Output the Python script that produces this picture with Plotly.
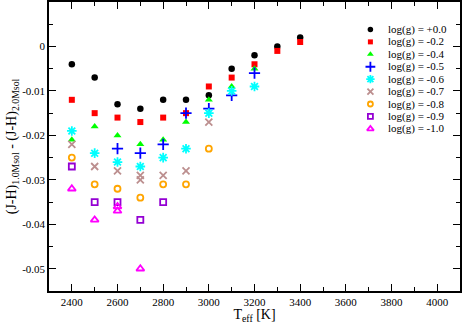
import plotly.graph_objects as go

# (J-H) difference 1.0 Msol - 2.0 Msol, per log(g)
teff_00 = [2400, 2500, 2600, 2700, 2800, 2900, 3000, 3100, 3200, 3300, 3400]
dj_00 = [-0.004, -0.007, -0.013, -0.014, -0.012, -0.012, -0.011, -0.005, -0.002, 0.0, 0.002]

teff_02 = [2400, 2500, 2600, 2700, 2800, 2900, 3000, 3100, 3200, 3300, 3400]
dj_02 = [-0.012, -0.015, -0.016, -0.017, -0.016, -0.015, -0.009, -0.007, -0.004, -0.001, 0.001]

teff_04 = [2400, 2500, 2600, 2700, 2800, 2900, 3000, 3100, 3200]
dj_04 = [-0.021, -0.018, -0.020, -0.022, -0.021, -0.017, -0.012, -0.009, -0.005]

teff_05 = [2600, 2700, 2800, 2900, 3000, 3100, 3200]
dj_05 = [-0.023, -0.024, -0.022, -0.015, -0.014, -0.011, -0.006]

teff_06 = [2400, 2500, 2600, 2700, 2800, 2900, 3000, 3100, 3200]
dj_06 = [-0.019, -0.024, -0.026, -0.027, -0.025, -0.023, -0.015, -0.010, -0.009]

teff_07 = [2400, 2500, 2600, 2700, 2700, 2800, 2900, 3000]
dj_07 = [-0.022, -0.027, -0.028, -0.029, -0.030, -0.029, -0.028, -0.017]

teff_08 = [2400, 2500, 2600, 2700, 2800, 2900, 3000]
dj_08 = [-0.025, -0.031, -0.032, -0.034, -0.031, -0.031, -0.023]

teff_09 = [2400, 2500, 2600, 2700, 2800]
dj_09 = [-0.027, -0.035, -0.035, -0.039, -0.035]

teff_10 = [2400, 2500, 2600, 2600, 2700]
dj_10 = [-0.032, -0.039, -0.036, -0.037, -0.050]

names = ["log(g) = +0.0", "log(g) = -0.2", "log(g) = -0.4", "log(g) = -0.5", "log(g) = -0.6",
         "log(g) = -0.7", "log(g) = -0.8", "log(g) = -0.9", "log(g) = -1.0"]

series = [
    (teff_00, dj_00, "circle", "black", 6.5),
    (teff_02, dj_02, "square", "red", 6),
    (teff_04, dj_04, "triangle-up", "#00ff00", 7),
    (teff_05, dj_05, "cross-thin-open", "blue", 8),
    (teff_06, dj_06, "asterisk-open", "cyan", 8),
    (teff_07, dj_07, "x-thin-open", "rgb(188,143,143)", 7),
    (teff_08, dj_08, "circle-open", "orange", 6),
    (teff_09, dj_09, "square-open", "rgb(148,0,211)", 6),
    (teff_10, dj_10, "triangle-up-open", "magenta", 7),
]

serif = "Liberation Serif"
fig = go.Figure()
for (xs, ys, sym, col, sz), nm in zip(series, names):
    mk = dict(symbol=sym, color=col, size=sz, line=dict(color=col, width=1.8 if "open" in sym else 0))
    fig.add_trace(go.Scatter(x=xs, y=ys, mode="markers", name=nm, marker=mk, showlegend=False))

# hand-made legend (tighter rows than plotly's own legend allows)
leg_x, leg_top, leg_step = 0.782, 0.905, 0.043
for i, ((xs, ys, sym, col, sz), nm) in enumerate(zip(series, names)):
    ly = leg_top - i * leg_step
    mk = dict(symbol=sym, color=col, size=sz - 1, line=dict(color=col, width=1.8 if "open" in sym else 0))
    fig.add_trace(go.Scatter(x=[leg_x], y=[ly], xaxis="x2", yaxis="y2", mode="markers",
                             marker=mk, showlegend=False, hoverinfo="skip"))
    fig.add_annotation(x=leg_x + 0.037, y=ly, xref="x2", yref="y2", text=nm, showarrow=False,
                       xanchor="left", yanchor="middle", font=dict(family=serif, size=11, color="black"))

axis_style = dict(
    showline=True, linecolor="black", linewidth=1.5, mirror="allticks",
    ticks="inside", ticklen=7, tickwidth=1, tickcolor="black",
    showgrid=False, zeroline=False, automargin=False,
    tickfont=dict(family=serif, size=11, color="black"),
)

fig.update_xaxes(
    range=[2300, 4100], tickvals=[2400, 2600, 2800, 3000, 3200, 3400, 3600, 3800, 4000],
    minor=dict(dtick=100, ticks="inside", ticklen=4, tickcolor="black", showgrid=False),
    title=dict(text="T<sub>eff</sub> [K]", font=dict(family=serif, size=14, color="black"), standoff=0),
    **axis_style,
)
fig.update_yaxes(
    range=[-0.055, 0.01], tickvals=[0, -0.01, -0.02, -0.03, -0.04, -0.05],
    ticktext=["0", "-0.01", "-0.02", "-0.03", "-0.04", "-0.05"],
    minor=dict(dtick=0.005, tick0=0, ticks="inside", ticklen=4, tickcolor="black", showgrid=False),
    title=dict(text="(J-H)<sub>1.0Msol</sub> - (J-H)<sub>2.0Msol</sub>",
               font=dict(family=serif, size=14, color="black"), standoff=2),
    **axis_style,
)

fig.update_layout(
    width=463, height=324,
    margin=dict(l=49, r=3, t=2, b=33),
    plot_bgcolor="white", paper_bgcolor="white",
    font=dict(family=serif, color="black"),
    xaxis2=dict(overlaying="x", range=[0, 1], visible=False),
    yaxis2=dict(overlaying="y", range=[0, 1], visible=False),
    showlegend=False,
)

# drop the page's default body margin so the figure sits at the window's corner
fig.write_html("out.html", config={"displayModeBar": False},
               post_script="document.body.style.margin='0';")
